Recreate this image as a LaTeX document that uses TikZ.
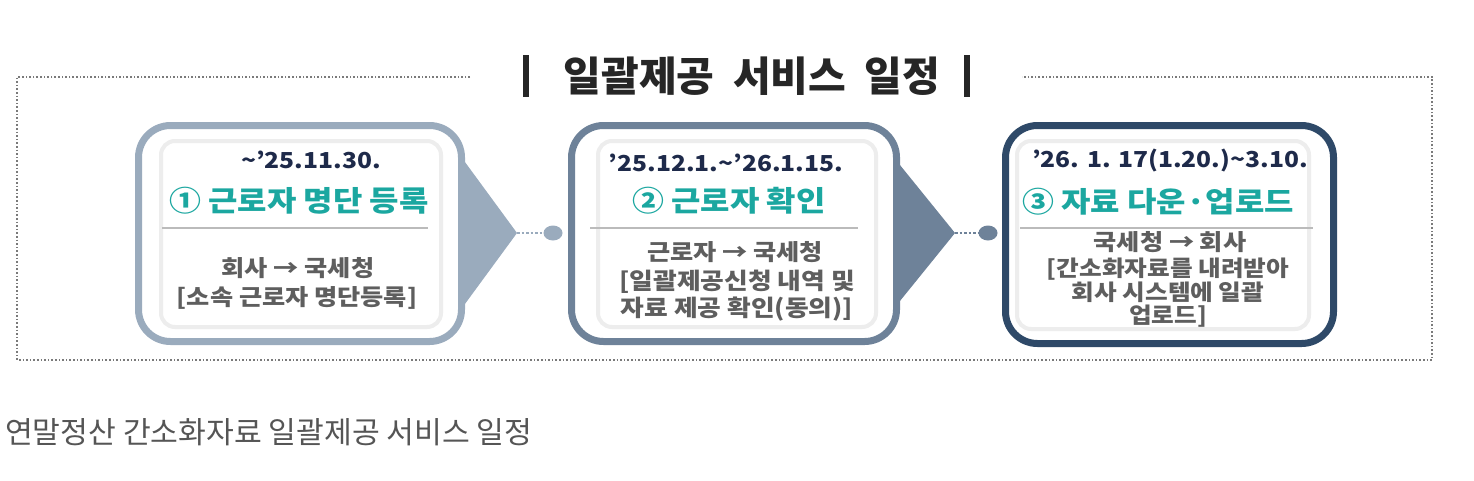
\documentclass[tikz,border=0pt]{standalone}
\usepackage{fontspec}
\setmainfont{Noto Sans CJK KR}
\newfontfamily\widefont[FakeStretch=1.12]{Noto Sans CJK KR}
\usetikzlibrary{shapes.geometric}
\definecolor{frameC}{HTML}{7A7A7A}
\definecolor{boxA}{HTML}{9AABBD}
\definecolor{boxB}{HTML}{6E8299}
\definecolor{boxC}{HTML}{2E4968}
\definecolor{navy}{HTML}{1E2A4A}
\definecolor{teal}{HTML}{1BA7A0}
\definecolor{bodyC}{HTML}{5E5E5E}
\definecolor{capC}{HTML}{555555}
\definecolor{sepC}{HTML}{BBBBBB}
\tikzset{
  outerbox/.style={draw=#1, line width=7pt, rounded corners=32pt, fill=white, inner sep=0pt},
  innerpanel/.style={draw=black!7, line width=4pt, rounded corners=14pt, fill=white, inner sep=0pt},
  datetxt/.style={text=navy, font=\widefont\fontsize{22}{24}\selectfont\bfseries, inner sep=0pt},
  titletxt/.style={text=teal, font=\widefont\fontsize{28.5}{30}\selectfont\bfseries, inner sep=0pt},
  bodytxt/.style={text=bodyC, font=\widefont\fontsize{22.5}{28}\selectfont\bfseries, inner sep=0pt, align=center},
  sepline/.style={draw=sepC, line width=1.5pt},
  conn/.style={draw=#1, line width=2.5pt, dotted},
  dotnode/.style={ellipse, fill=#1, minimum width=19pt, minimum height=15pt, inner sep=0pt},
  framel/.style={draw=frameC, line width=1.6pt, dotted},
}
\begin{document}
\begin{tikzpicture}[x=1pt,y=-1pt]
\useasboundingbox (0,0) rectangle (1474,480);
% frame
\coordinate (f1) at (470,77);
\coordinate (f2) at (17,77);
\coordinate (f3) at (17,360);
\coordinate (f4) at (1432,360);
\coordinate (f5) at (1432,77);
\coordinate (f6) at (1022,77);
\draw[framel] (f1) -- (f2) -- (f3) -- (f4) -- (f5) -- (f6);
% title
\node[inner sep=0pt, font=\fontsize{41}{44}\selectfont\bfseries, text=black!85] (title) at (752,76) {일괄제공\hspace{0.45em}서비스\hspace{0.45em}일정};
\coordinate (bl1) at (526,55);
\coordinate (bl2) at (526,97);
\coordinate (br1) at (967,55);
\coordinate (br2) at (967,97);
\draw[line width=6pt, black!85] (bl1) -- (bl2);
\draw[line width=6pt, black!85] (br1) -- (br2);

% chevrons
\coordinate (tA) at (517,233);
\fill[boxA] (440,128) -- (tA) -- (440,338) -- cycle;
\coordinate (tB) at (955,233);
\fill[boxB] (870,128) -- (tB) -- (870,338) -- cycle;

% boxes
\node[outerbox=boxA, minimum width=323pt, minimum height=216pt] (b1) at (300,233.5) {};
\node[outerbox=boxB, minimum width=325pt, minimum height=216pt] (b2) at (734,233.5) {};
\node[outerbox=boxC, minimum width=328pt, minimum height=218pt] (b3) at (1169.5,234.5) {};

\node[innerpanel, minimum width=280pt, minimum height=186pt] (p1) at (301,234) {};
\node[innerpanel, minimum width=278pt, minimum height=186pt] (p2) at (737,234) {};
\node[innerpanel, minimum width=292pt, minimum height=188pt] (p3) at (1163,235) {};

% connectors
\node[dotnode=boxA] (dA) at (553,233) {};
\node[dotnode=boxB] (dB) at (988,233) {};
\draw[conn=boxA] (tA) -- (dA);
\draw[conn=boxB] (tB) -- (dB);

% box 1 text
\node[datetxt] (d1) at (311,160) {\textasciitilde’25.11.30.};
\node[titletxt] (h1) at (299,201) {① 근로자 명단 등록};
\coordinate (s1a) at (162,228);
\coordinate (s1b) at (428,228);
\draw[sepline] (s1a) -- (s1b);
\node[bodytxt] (x1) at (298,268) {회사 → 국세청};
\node[bodytxt] (y1) at (297,298) {[소속 근로자 명단등록]};

% box 2 text
\node[datetxt] (d2) at (726,163) {’25.12.1.\textasciitilde’26.1.15.};
\node[titletxt] (h2) at (729,201) {② 근로자 확인};
\coordinate (s2a) at (590,228);
\coordinate (s2b) at (858,228);
\draw[sepline] (s2a) -- (s2b);
\node[bodytxt] (x2) at (735,252) {근로자 → 국세청};
\node[bodytxt, font=\widefont\fontsize{23}{27}\selectfont\bfseries] (y2) at (737,296) {[일괄제공신청 내역 및\\ 자료 제공 확인(동의)]};

% box 3 text
\node[datetxt] (d3) at (1170,160) {’26. 1. 17(1.20.)\textasciitilde3.10.};
\node[titletxt] (h3) at (1158,202) {③ 자료 다운·업로드};
\coordinate (s3a) at (1020,228);
\coordinate (s3b) at (1313,228);
\draw[sepline] (s3a) -- (s3b);
\node[bodytxt] (x3) at (1170,242) {국세청 → 회사};
\node[bodytxt, font=\widefont\fontsize{22}{23.5}\selectfont\bfseries] (y3) at (1168,293) {[간소화자료를 내려받아\\ 회사 시스템에 일괄\\ 업로드]};

% caption
\node[anchor=west, inner sep=0pt, text=capC, font=\fontsize{30.2}{32}\selectfont] (cap) at (5,432) {연말정산 간소화자료 일괄제공 서비스 일정};
\end{tikzpicture}
\end{document}
